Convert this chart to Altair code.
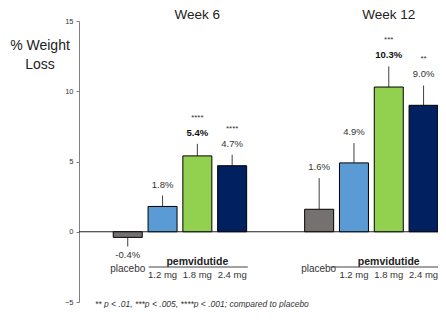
import altair as alt
import pandas as pd

groups = ["Week 6", "Week 12"]
doses = ["placebo", "1.2 mg", "1.8 mg", "2.4 mg"]
colors = ["#767171", "#5b9bd5", "#92d050", "#002060"]
values = {"Week 6": [-0.4, 1.8, 5.4, 4.7], "Week 12": [1.6, 4.9, 10.3, 9.0]}
errors = {"Week 6": [0.65, 0.78, 0.86, 0.78], "Week 12": [2.22, 1.41, 1.47, 1.41]}
stars = {"Week 6": ["", "", "****", "****"], "Week 12": ["", "", "***", "**"]}
labels = {"Week 6": ["-0.4%", "1.8%", "5.4%", "4.7%"], "Week 12": ["1.6%", "4.9%", "10.3%", "9.0%"]}
footnote = "** p < .01, ***p < .005, ****p < .001; compared to placebo"
y_ticks = [-5, 0, 5, 10, 15]

GROUP_GAP = 5.5
rows = []
for gi, g in enumerate(groups):
    for di, d in enumerate(doses):
        v = values[g][di]
        e = errors[g][di]
        sign = 1 if v >= 0 else -1
        rows.append(dict(group=g, dose=d, gi=gi, pos=gi * GROUP_GAP + di, value=v,
                         tip=v + sign * e, label=labels[g][di], stars=stars[g][di],
                         bold=(d == "1.8 mg"), neg=(v < 0)))
df = pd.DataFrame(rows)

FONT = "Liberation Sans"
xs = alt.Scale(domain=[-1.257, 8.771], nice=False, zero=False)
ys = alt.Scale(domain=[-5, 15], nice=False, zero=False)
X = alt.X("pos:Q", scale=xs, axis=None)

base = alt.Chart(df)

bars = base.mark_bar(width=29, stroke="black", strokeWidth=1).encode(
    x=X,
    y=alt.Y("value:Q", scale=ys, title=None,
            axis=alt.Axis(values=y_ticks, grid=False, tickSize=3, labelFontSize=7.5,
                          labelColor="#333333", domainColor="#808080", tickColor="#808080",
                          labelFont=FONT, labelPadding=3)),
    y2="zero:Q",
    color=alt.Color("dose:N", scale=alt.Scale(domain=doses, range=colors), legend=None),
).transform_calculate(zero="0")

errs = base.mark_rule(color="#404040", strokeWidth=1).encode(
    x=X, y=alt.Y("value:Q", scale=ys), y2="tip:Q")

zero_line = alt.Chart(pd.DataFrame({"y": [0]})).mark_rule(color="#222222", strokeWidth=1).encode(
    y=alt.Y("y:Q", scale=ys))

pos_norm = base.transform_filter("!datum.neg && !datum.bold").mark_text(
    font=FONT, fontSize=9.5, color="#333333", dy=-11).encode(
    x=X, y=alt.Y("tip:Q", scale=ys), text="label:N")
pos_bold = base.transform_filter("!datum.neg && datum.bold").mark_text(
    font=FONT, fontSize=9.5, fontWeight="bold", color="#111111", dy=-11).encode(
    x=X, y=alt.Y("tip:Q", scale=ys), text="label:N")
neg_lab = base.transform_filter("datum.neg").mark_text(
    font=FONT, fontSize=9.5, color="#333333", dy=8).encode(
    x=X, y=alt.Y("tip:Q", scale=ys), text="label:N")
star_lab = base.transform_filter("datum.stars != ''").mark_text(
    font=FONT, fontSize=8, color="#333333", dy=-26).encode(
    x=X, y=alt.Y("tip:Q", scale=ys), text="stars:N")

# category labels below axis
plac6 = base.transform_filter("datum.dose == 'placebo' && datum.gi == 0").mark_text(
    font=FONT, fontSize=10, color="#333333").encode(
    x=X, y=alt.value(248), text="dose:N")
plac12 = base.transform_filter("datum.dose == 'placebo' && datum.gi == 1").mark_text(
    font=FONT, fontSize=10, color="#333333", align="right", dx=17).encode(
    x=X, y=alt.value(248), text="dose:N")
dose_lab = base.transform_filter("datum.dose != 'placebo'").mark_text(
    font=FONT, fontSize=9.5, color="#333333").encode(
    x=X, y=alt.value(254), text="dose:N")

gdf = pd.DataFrame({"group": groups, "gi": [0, 1]})
gbase = alt.Chart(gdf).transform_calculate(
    center=f"datum.gi * {GROUP_GAP} + 2",
    lstart=f"datum.gi * {GROUP_GAP} + 0.6 - datum.gi * 0.28",
    lend=f"datum.gi * {GROUP_GAP} + 3.45",
    name="'pemvidutide'")
pem = gbase.mark_text(font=FONT, fontSize=10.5, fontWeight="bold", color="#222222").encode(
    x=alt.X("center:Q", scale=xs), y=alt.value(241), text="name:N")
pem_line = gbase.mark_rule(color="#444444", strokeWidth=1).encode(
    x=alt.X("lstart:Q", scale=xs), x2="lend:Q", y=alt.value(246))
titles = gbase.mark_text(font=FONT, fontSize=13.5, color="#222222").encode(
    x=alt.X("center:Q", scale=xs), y=alt.value(-6), text="group:N")

ytitle = alt.Chart(pd.DataFrame({"t": [0]})).mark_text(
    font=FONT, fontSize=14, color="#222222", lineHeight=19).encode(
    x=alt.value(-39), y=alt.value(25), text=alt.value(["% Weight", "Loss"]))

foot = alt.Chart(pd.DataFrame({"t": [footnote]})).mark_text(
    font=FONT, fontSize=8.5, fontStyle="italic", color="#333333", align="left").encode(
    x=alt.value(16), y=alt.value(283), text="t:N")

chart = alt.layer(
    zero_line, errs, bars, pos_norm, pos_bold, neg_lab, star_lab, plac6, plac12, dose_lab,
    pem, pem_line, titles, ytitle, foot
).properties(
    width=359, height=281,
    autosize=alt.AutoSizeParams(type="none"),
    padding={"left": 71, "top": 13, "right": 0, "bottom": 6},
).configure_view(strokeWidth=0)

chart.save("out.html", embed_options={"renderer": "svg", "actions": False})
